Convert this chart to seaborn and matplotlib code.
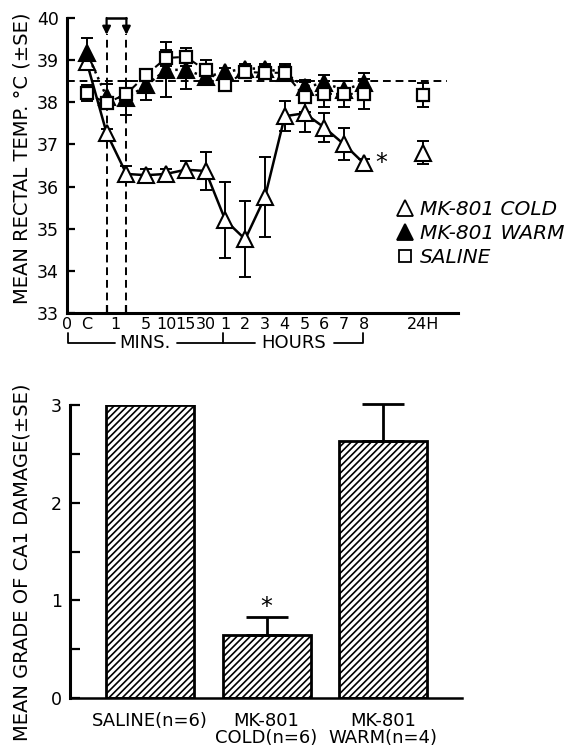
import numpy as np
import pandas as pd
import matplotlib
matplotlib.use("Agg")
import matplotlib.pyplot as plt
from matplotlib.lines import Line2D
import seaborn as sns

# time axis positions (C, 2 dashed-line samples, 5/10/15/30 min, 1-8 h) and 24 h
pos = [1, 2, 3, 4, 5, 6, 7, 8, 9, 10, 11, 12, 13, 14, 15]
pos24 = 18

cold = [38.95, 37.27, 36.3, 36.27, 36.3, 36.4, 36.37, 35.2, 34.75, 35.75, 37.67, 37.74, 37.4, 37.0, 36.55]
cold_se = [0.15, 0.1, 0.2, 0.15, 0.12, 0.2, 0.45, 0.9, 0.9, 0.95, 0.35, 0.45, 0.35, 0.38, 0.1]
cold24, cold24_se = 36.8, 0.27

warm = [39.17, 38.13, 38.1, 38.4, 38.77, 38.77, 38.6, 38.72, 38.8, 38.8, 38.7, 38.37, 38.45, 38.3, 38.45]
warm_se = [0.35, 0.3, 0.4, 0.35, 0.65, 0.45, 0.15, 0.1, 0.1, 0.1, 0.2, 0.15, 0.2, 0.2, 0.25]

saline = [38.22, 37.98, 38.2, 38.65, 39.05, 39.08, 38.76, 38.42, 38.72, 38.7, 38.7, 38.13, 38.2, 38.2, 38.2]
saline_se = [0.2, 0.15, 0.15, 0.15, 0.2, 0.22, 0.25, 0.1, 0.15, 0.15, 0.15, 0.35, 0.3, 0.3, 0.35]
saline24, saline24_se = 38.17, 0.28

xtick_pos = [0, 1, 2.45, 4, 5, 6, 7, 8, 9, 10, 11, 12, 13, 14, 15, 18]
xtick_lab = ["0", "C", "1", "5", "10", "15", "30", "1", "2", "3", "4", "5", "6", "7", "8", "24H"]

# bar panel
groups = ["SALINE(n=6)", "MK-801\nCOLD(n=6)", "MK-801\nWARM(n=4)"]
damage = [3.0, 0.645, 2.63]
damage_se = [0.0, 0.18, 0.38]

sns.set_theme(style="ticks", rc={"text.color": "black", "axes.edgecolor": "black",
                                  "axes.labelcolor": "black", "xtick.color": "black",
                                  "ytick.color": "black"})
plt.rcParams["font.family"] = ["DejaVu Sans"]
plt.rcParams["hatch.linewidth"] = 1.2
plt.rcParams["hatch.color"] = "black"

W, H = 579, 748
fig = plt.figure(figsize=(W / 100, H / 100), dpi=100)
fig.patch.set_facecolor("white")

ax1 = fig.add_axes([67 / W, 1 - 313 / H, (458 - 67) / W, (313 - 18) / H])
ax2 = fig.add_axes([70 / W, 1 - 698 / H, (462 - 70) / W, (698 - 405) / H])

# ---------------- top panel: rectal temperature ----------------
ebkw = dict(fmt="none", ecolor="black", elinewidth=1.4, capsize=4.3, capthick=1.4)

ax1.errorbar(pos, cold, yerr=cold_se, zorder=2, **ebkw)
ax1.errorbar([pos24], [cold24], yerr=[cold24_se], zorder=2, **ebkw)
ax1.errorbar(pos, warm, yerr=warm_se, zorder=2, **ebkw)
ax1.errorbar(pos, saline, yerr=saline_se, zorder=2, **ebkw)
ax1.errorbar([pos24], [saline24], yerr=[saline24_se], zorder=2, **ebkw)

sns.lineplot(x=pos, y=cold, ax=ax1, color="black", linewidth=1.8, errorbar=None,
             marker="^", markersize=11.5, markerfacecolor="white",
             markeredgecolor="black", markeredgewidth=1.5, zorder=3)
sns.lineplot(x=[pos24], y=[cold24], ax=ax1, color="black", errorbar=None,
             marker="^", markersize=11.5, markerfacecolor="white",
             markeredgecolor="black", markeredgewidth=1.5, zorder=3)
sns.lineplot(x=pos, y=warm, ax=ax1, color="black", linewidth=1.8, linestyle=":",
             errorbar=None, marker="^", markersize=11.5, markerfacecolor="black",
             markeredgecolor="black", markeredgewidth=1.5, zorder=4)
sns.lineplot(x=pos, y=saline, ax=ax1, color="black", linewidth=1.5, linestyle=(0, (3, 2)),
             errorbar=None, marker="s", markersize=8.8, markerfacecolor="white",
             markeredgecolor="black", markeredgewidth=1.6, zorder=5)
sns.lineplot(x=[pos24], y=[saline24], ax=ax1, color="black", errorbar=None,
             marker="s", markersize=8.8, markerfacecolor="white",
             markeredgecolor="black", markeredgewidth=1.6, zorder=5)

# reference temperature and cooling window
ax1.axhline(38.5, xmin=0, xmax=19.2 / 19.75, color="black", linestyle=(0, (4, 2.5)), linewidth=1.4, zorder=1)
for xv in (2, 3):
    ax1.plot([xv, xv], [33, 39.62], color="black", linestyle=(0, (4, 2.5)), linewidth=1.4, zorder=1)
    ax1.annotate("", xy=(xv, 39.6), xytext=(xv, 40.0), annotation_clip=False,
                 arrowprops=dict(arrowstyle="-|>", color="black", lw=1.6, mutation_scale=12,
                                 shrinkA=0, shrinkB=0))
ax1.plot([2, 3], [40.0, 40.0], color="black", linewidth=1.8, clip_on=False)

ax1.text(15.85, 36.55, "*", fontsize=17, ha="center", va="center")

ax1.set_xlim(0, 19.75)
ax1.set_ylim(33, 40)
ax1.set_yticks(range(33, 41))
ax1.set_xticks(xtick_pos, labels=xtick_lab)
ax1.set_xticks(pos + [pos24], minor=True)
ax1.tick_params(axis="y", direction="in", length=6, width=1.6, labelsize=12.5, pad=6)
ax1.tick_params(axis="x", which="major", length=0, labelsize=11.5, pad=3)
ax1.tick_params(axis="x", which="minor", direction="in", length=6, width=1.6)
ax1.set_xlabel("")
ax1.set_ylabel("")
for s in ("left", "bottom"):
    ax1.spines[s].set_linewidth(2.2)
sns.despine(ax=ax1)

# MINS. / HOURS brackets under the time axis
yb, yt = 32.28, 32.52
bk = dict(color="black", linewidth=1.3, clip_on=False)
ax1.plot([0.05, 0.05, 2.4], [yt, yb, yb], **bk)
ax1.plot([5.55, 9.5], [yb, yb], **bk)
ax1.plot([7.9, 7.9], [yb, yt], **bk)
ax1.plot([13.5, 14.95, 14.95], [yb, yb, yt], **bk)
ax1.text(3.95, yb, "MINS.", fontsize=13, ha="center", va="center")
ax1.text(11.45, yb, "HOURS", fontsize=13, ha="center", va="center")

fig.text(22 / W, 1 - 158 / H, "MEAN RECTAL TEMP. °C (±SE)", rotation=90,
         ha="center", va="center", fontsize=14)

handles = [
    Line2D([], [], linestyle="none", marker="^", markersize=11, markerfacecolor="white",
           markeredgecolor="black", markeredgewidth=1.3),
    Line2D([], [], linestyle="none", marker="^", markersize=11, markerfacecolor="black",
           markeredgecolor="black", markeredgewidth=1.3),
    Line2D([], [], linestyle="none", marker="s", markersize=8, markerfacecolor="white",
           markeredgecolor="black", markeredgewidth=1.3),
]
fig.legend(handles, ["MK-801 COLD", "MK-801 WARM", "SALINE"], loc="upper left",
           bbox_to_anchor=(397 / W, 1 - 200 / H), frameon=False, borderpad=0,
           borderaxespad=0, handlelength=0.8, handletextpad=0.35, labelspacing=0.25,
           prop=dict(style="italic", size=14.5))

# ---------------- bottom panel: CA1 damage ----------------
bars = pd.DataFrame({"group": groups, "damage": damage})
sns.barplot(data=bars, x="group", y="damage", ax=ax2, color="white", edgecolor="black",
            linewidth=2, hatch="/////", width=0.755, errorbar=None, zorder=2)
ax2.errorbar([1, 2], damage[1:], yerr=[[0, 0], damage_se[1:]], fmt="none", ecolor="black",
             elinewidth=2, capsize=15, capthick=2, zorder=3, clip_on=False)
ax2.text(1, 0.93, "*", fontsize=17, ha="center", va="center")

ax2.set_xlim(-0.687, 2.678)
ax2.set_ylim(0, 3)
ax2.set_yticks([0, 1, 2, 3])
ax2.set_yticks([0.5, 1.5, 2.5], minor=True)
ax2.tick_params(axis="y", which="both", direction="in", length=7, width=1.6, labelsize=12.5, pad=6)
ax2.tick_params(axis="x", length=0, labelsize=13, pad=10)
for lbl in ax2.get_xticklabels():
    lbl.set_linespacing(0.95)
ax2.set_xlabel("")
ax2.set_ylabel("")
ax2.spines["left"].set_linewidth(2.2)
ax2.spines["bottom"].set_linewidth(1.8)
sns.despine(ax=ax2)

fig.text(22 / W, 1 - 562 / H, "MEAN GRADE OF CA1 DAMAGE(±SE)", rotation=90,
         ha="center", va="center", fontsize=14)

fig.savefig("out.png", dpi=100, facecolor="white")
